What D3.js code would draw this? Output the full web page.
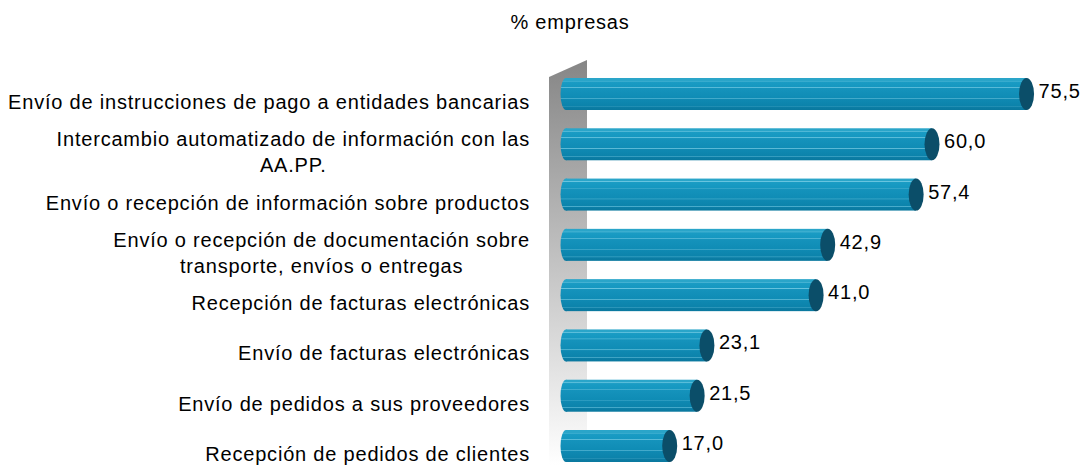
<!DOCTYPE html>
<html>
<head>
	<meta charset='utf-8'>
	<title>% empresas</title>
	<style>
		body { margin: 0; background: #fff; }
		text { font-family: 'Liberation Sans', Arial, sans-serif; fill: #000; font-size: 20px; letter-spacing: 0.8px; }
	</style>
</head>
<body>
<script src='https://d3js.org/d3.v7.min.js'></script>
<script>
	'use strict';
	const categories = [
		['Envío de instrucciones de pago a entidades bancarias'],
		['Intercambio automatizado de información con las', 'AA.PP.'],
		['Envío o recepción de información sobre productos'],
		['Envío o recepción de documentación sobre', 'transporte, envíos o entregas'],
		['Recepción de facturas electrónicas'],
		['Envío de facturas electrónicas'],
		['Envío de pedidos a sus proveedores'],
		['Recepción de pedidos de clientes']
	];
	const values = [75.5, 60.0, 57.4, 42.9, 41.0, 23.1, 21.5, 17.0];
	const valueLabels = ['75,5', '60,0', '57,4', '42,9', '41,0', '23,1', '21,5', '17,0'];

	const width = 1086, height = 465;
	const svg = d3.select('body').append('svg')
		.attr('width', width)
		.attr('height', height);

	const x = d3.scaleLinear().domain([0, 80]).range([566, 566 + 80 * 6.1]);
	const y = d3.scalePoint().domain(d3.range(categories.length)).range([94, 446]);
	const barH = 32;
	const labelRight = 530;

	const defs = svg.append('defs');
	const wallGrad = defs.append('linearGradient')
		.attr('id', 'wall').attr('x1', 0).attr('y1', 0).attr('x2', 0).attr('y2', 1);
	wallGrad.append('stop').attr('offset', 0).attr('stop-color', '#868686');
	wallGrad.append('stop').attr('offset', 1).attr('stop-color', '#ffffff');

	// тело цилиндра со светлыми полосками
	const body = defs.append('linearGradient')
		.attr('id', 'body').attr('x1', 0).attr('y1', 0).attr('x2', 0).attr('y2', 1);
	[
		[0, '#2aa5c9'], [0.08, '#2aa5c9'], [0.09, '#6cc6e0'], [0.12, '#1a9cc4'],
		[0.28, '#1597c0'], [0.29, '#6cc6e0'], [0.32, '#1593bc'],
		[0.62, '#0f8cb5'], [0.63, '#5fbcd8'], [0.66, '#0f89b2'],
		[0.86, '#0c83ab'], [0.87, '#4fb0cf'], [0.9, '#0b7ea6'], [1, '#0a789e']
	].forEach(function(s) {
		body.append('stop').attr('offset', s[0]).attr('stop-color', s[1]);
	});

	// задняя стенка
	svg.append('path')
		.attr('d', 'M549,77 L587,60 L587,' + height + ' L549,' + height + ' Z')
		.attr('fill', 'url(#wall)');

	svg.append('text')
		.attr('x', 570).attr('y', 29)
		.attr('text-anchor', 'middle')
		.text('% empresas');

	const bars = svg.selectAll('.bar')
		.data(values)
		.enter()
		.append('g')
		.attr('class', 'bar');

	bars.append('ellipse')
		.attr('cx', x(0))
		.attr('cy', function(d, i) { return y(i); })
		.attr('rx', 5.5).attr('ry', barH / 2)
		.attr('fill', 'url(#body)');

	bars.append('rect')
		.attr('x', x(0))
		.attr('y', function(d, i) { return y(i) - barH / 2; })
		.attr('width', function(d) { return x(d) - x(0); })
		.attr('height', barH)
		.attr('fill', 'url(#body)');

	bars.append('ellipse')
		.attr('cx', function(d) { return x(d); })
		.attr('cy', function(d, i) { return y(i); })
		.attr('rx', 7.5).attr('ry', barH / 2)
		.attr('fill', '#0b4e69');

	svg.selectAll('.value')
		.data(values)
		.enter()
		.append('text')
		.attr('class', 'value')
		.attr('x', function(d) { return x(d) + 12; })
		.attr('y', function(d, i) { return y(i) + 4; })
		.text(function(d, i) { return valueLabels[i]; });

	// подписи: блок по центру, самая длинная строка прижата к правому краю
	const labels = svg.selectAll('.label')
		.data(categories)
		.enter()
		.append('text')
		.attr('class', 'label')
		.attr('text-anchor', 'middle')
		.attr('y', function(d, i) { return y(i) + 15 - (d.length - 1) * 13; });

	labels.selectAll('tspan')
		.data(function(d) { return d; })
		.enter()
		.append('tspan')
		.attr('dy', function(d, j) { return j === 0 ? 0 : 26; })
		.text(function(d) { return d; });

	labels.each(function() {
		const spans = d3.select(this).selectAll('tspan');
		let maxW = 0;
		spans.each(function() { maxW = Math.max(maxW, this.getComputedTextLength()); });
		spans.attr('x', labelRight - maxW / 2);
	});
</script>
</body>
</html>
